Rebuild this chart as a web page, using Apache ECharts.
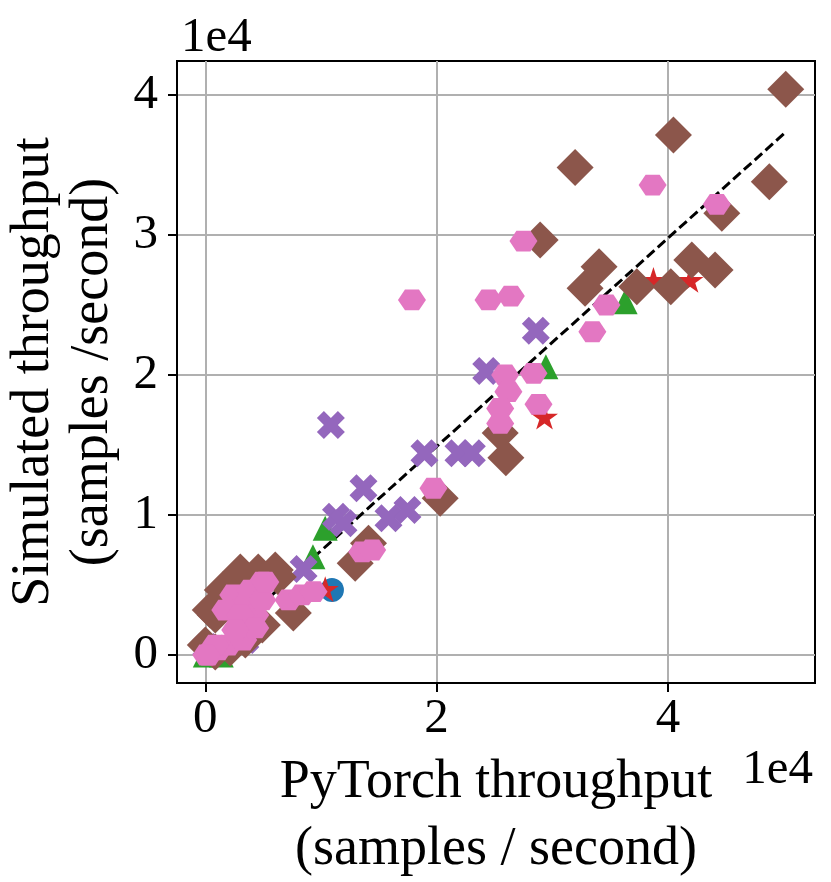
<!DOCTYPE html>
<html>
<head>
<meta charset="utf-8">
<title>Simulated vs PyTorch throughput</title>
<script src="https://cdn.jsdelivr.net/npm/echarts@6.0.0/dist/echarts.min.js"></script>
<style>
  html, body { margin: 0; padding: 0; background: #fff; }
  #chart { width: 831px; height: 882px; }
</style>
</head>
<body>
<div id="chart"></div>
<script>
// throughput in samples / second, [pytorch, simulated]
const circlePts = [[10950, 4640]]
const trianglePts = [
  [36300, 25240], [29450, 20590], [9310, 7020], [10370, 9050],
  [0, 0], [1380, 0], [3370, 1360]
]
const starPts = [[38750, 26790], [41920, 26790], [29330, 17020], [10370, 4710]]
const crossPts = [
  [10860, 16430], [28580, 23160], [24290, 20290], [18950, 14410], [21890, 14410],
  [23050, 14410], [13680, 11910], [11300, 9880], [11950, 9410], [15840, 9760],
  [17480, 10360], [8500, 6140], [90, 570], [3460, 1070]
]
const diamondPts = [
  [50190, 40410], [40480, 37140], [31980, 34820], [48770, 33810], [44660, 31550],
  [28950, 29640], [42070, 28210], [44080, 27500], [34050, 27740], [32840, 26190],
  [37310, 26310], [40250, 26310], [25500, 15860], [25990, 14090], [20310, 11190],
  [14110, 7980], [12960, 6550], [6050, 6070], [7610, 3000], [4580, 5930],
  [6310, 5570], [4930, 2140], [1730, 3930], [860, 2860], [3020, 4640],
  [3460, 1070], [0, 710], [860, 210], [2160, 500], [2160, 4640],
  [1470, 4640], [3030, 5930], [430, 3210]
]
const hexPts = [
  [38680, 33570], [44230, 32190], [34680, 25000], [33470, 23090], [27510, 29570],
  [17870, 25360], [24490, 25360], [26420, 25640], [25930, 20000], [28380, 20120],
  [26210, 18810], [28810, 17910], [25500, 17610], [25500, 16540], [19730, 11910],
  [13570, 7360], [14430, 7500], [7200, 3930], [8360, 4290], [9360, 4520],
  [4930, 5210], [2420, 4290], [3890, 4640], [3460, 3570], [4320, 2860],
  [4930, 3930], [3890, 2140], [260, 0], [1120, 360], [1990, 710], [3280, 1070],
  [5190, 5210], [1730, 3210], [3030, 2860],
  [4320, 1930], [2590, 1790], [860, 710], [90, 0]
]
// reference fit line
const fitX = [0, 50130]
const fitY = [0, 37310]
// tick values
const xTicks = [0, 20000, 40000]
const yTicks = [0, 10000, 20000, 30000, 40000]

const FONT = '"Liberation Serif", "Times New Roman", serif'
const STAR = 'path://M50,0 L61.23,34.55 L97.55,34.55 L68.17,55.9 L79.39,90.45 L50,69.1 L20.61,90.45 L31.83,55.9 L2.45,34.55 L38.77,34.55 Z'
const CROSS = 'path://M25,0 L50,25 L75,0 L100,25 L75,50 L100,75 L75,100 L50,75 L25,100 L0,75 L25,50 L0,25 Z'
const HEX = 'path://M0,43.3 L25,0 L75,0 L100,43.3 L75,86.6 L25,86.6 Z'

const chart = echarts.init(document.getElementById('chart'), null, { renderer: 'canvas' })

function scatter(name, data, symbol, size, color) {
  return {
    name: name,
    type: 'scatter',
    data: data,
    symbol: symbol,
    symbolSize: size,
    symbolKeepAspect: true,
    itemStyle: { color: color, opacity: 1 },
    emphasis: { disabled: true },
    z: 3
  }
}

const axisText = { fontFamily: FONT, fontSize: 49, color: '#000' }

chart.setOption({
  animation: false,
  backgroundColor: '#fff',
  grid: {
    left: 177,
    top: 61,
    width: 638,
    height: 622,
    show: true,
    borderColor: '#000',
    borderWidth: 2,
    containLabel: false,
    outerBoundsMode: 'none'
  },
  xAxis: {
    type: 'value',
    min: -2446,
    max: 52720,
    name: 'PyTorch throughput\n(samples / second)',
    nameLocation: 'middle',
    nameGap: 55,
    nameTextStyle: { fontFamily: FONT, fontSize: 54, color: '#000', lineHeight: 67 },
    axisLine: { show: true, onZero: false, lineStyle: { color: '#000', width: 2 } },
    axisTick: { show: true, inside: false, length: 9, lineStyle: { color: '#000', width: 2 }, customValues: xTicks },
    axisLabel: Object.assign({ margin: 12, customValues: xTicks, formatter: v => String(v / 10000) }, axisText),
    splitLine: { show: true, lineStyle: { color: '#b0b0b0', width: 2 } }
  },
  yAxis: {
    type: 'value',
    min: -2000,
    max: 42430,
    name: 'Simulated throughput\n(samples /second)',
    nameLocation: 'middle',
    nameRotate: 90,
    nameGap: 42,
    nameTextStyle: { fontFamily: FONT, fontSize: 54, color: '#000', lineHeight: 59 },
    axisLine: { show: true, onZero: false, lineStyle: { color: '#000', width: 2 } },
    axisTick: { show: true, inside: false, length: 9, lineStyle: { color: '#000', width: 2 }, customValues: yTicks },
    axisLabel: Object.assign({ margin: 19, customValues: yTicks, formatter: v => String(v / 10000) }, axisText),
    splitLine: { show: true, lineStyle: { color: '#b0b0b0', width: 2 } }
  },
  graphic: [
    {
      type: 'text',
      left: 181,
      top: 14,
      style: { text: '1e4', font: '49px ' + FONT, fill: '#000' }
    },
    {
      type: 'text',
      right: 18,
      top: 746,
      style: { text: '1e4', font: '49px ' + FONT, fill: '#000' }
    }
  ],
  series: [
    {
      name: 'fit',
      type: 'line',
      data: fitX.map((x, i) => [x, fitY[i]]),
      showSymbol: false,
      symbol: 'none',
      lineStyle: { color: '#000', width: 3, type: [10, 4.5] },
      emphasis: { disabled: true },
      z: 2
    },
    scatter('circle', circlePts, 'circle', 24, '#1f77b4'),
    scatter('triangle', trianglePts, 'triangle', 25, '#2ca02c'),
    scatter('star', starPts, STAR, 27, '#d62728'),
    scatter('cross', crossPts, CROSS, 28, '#9467bd'),
    scatter('diamond', diamondPts, 'diamond', 37, '#8c564b'),
    scatter('hexagon', hexPts, HEX, [28, 24], '#e377c2')
  ]
})
</script>
</body>
</html>
